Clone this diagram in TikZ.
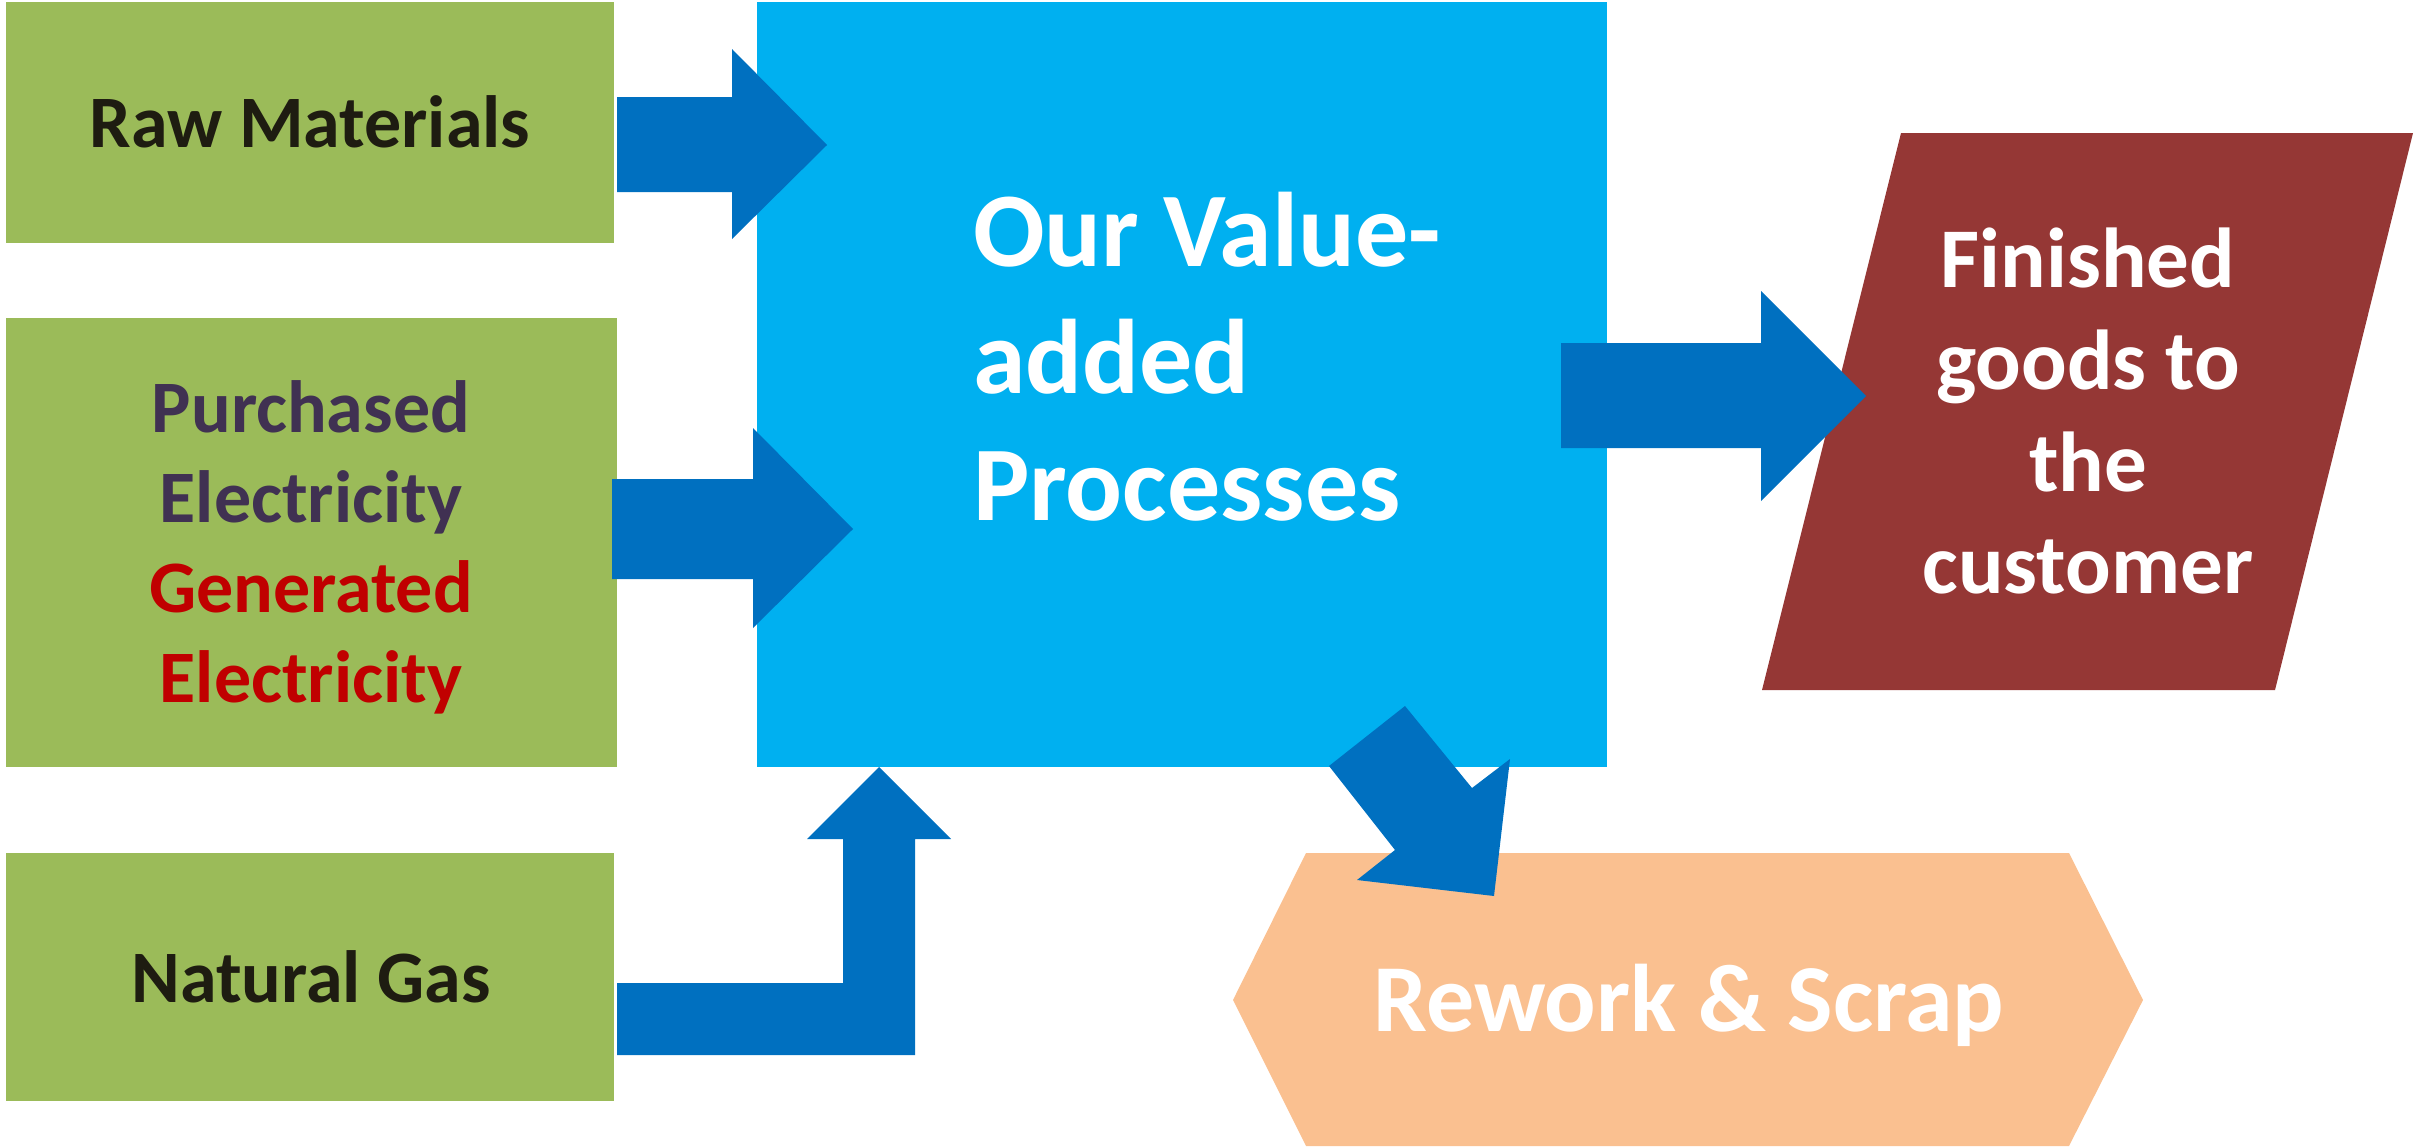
\documentclass[tikz,border=0pt]{standalone}
\usepackage{fontspec}
\setmainfont{Carlito}
\definecolor{boxgreen}{HTML}{9BBB59}
\definecolor{procblue}{HTML}{00B0F0}
\definecolor{arrowblue}{HTML}{0070C0}
\definecolor{goodsred}{HTML}{953735}
\definecolor{scrapped}{HTML}{FAC090}
\definecolor{darktext}{HTML}{1E1C11}
\definecolor{purpletext}{HTML}{403152}
\definecolor{gentext}{HTML}{C00000}
\tikzset{
  boxshape/.style={draw=none, inner sep=0pt, outer sep=0pt, anchor=north west},
  lbl/.style={inner sep=0pt, outer sep=0pt, font=\bfseries},
  blockarrow/.style={fill=arrowblue, draw=none},
}
\begin{document}
\begin{tikzpicture}[x=1pt, y=-1pt]
\useasboundingbox (0,0) rectangle (2420,1146);
% input boxes
\node[boxshape, fill=boxgreen, minimum width=608, minimum height=241] (raw) at (6,2) {};
\node[boxshape, fill=boxgreen, minimum width=611, minimum height=449] (elec) at (6,318) {};
\node[boxshape, fill=boxgreen, minimum width=608, minimum height=248] (gas) at (6,853) {};
% process box
\node[boxshape, fill=procblue, minimum width=850, minimum height=765] (proc) at (757,2) {};
% finished goods parallelogram
\fill[goodsred] (1901,133) coordinate (fg1) -- (2413,133) coordinate (fg2)
  -- (2275,690) coordinate (fg3) -- (1762,690) coordinate (fg4) -- cycle;
% rework hexagon
\fill[scrapped] (1306,853) coordinate (rw1) -- (2069,853) -- (2143,1000)
  -- (2069,1146) -- (1306,1146) -- (1233,1000) coordinate (rw6) -- cycle;
% texts
\node[lbl, anchor=base, text=darktext, font=\bfseries\fontsize{74}{90}\selectfont] (rawt) at (310,147) {Raw Materials};
\node[lbl, anchor=base, text=purpletext, font=\bfseries\fontsize{74}{90}\selectfont] (elect) at (311,432)
  {\begin{tabular}[t]{@{}c@{}}Purchased\\Electricity\\\textcolor{gentext}{Generated}\\\textcolor{gentext}{Electricity}\end{tabular}};
\node[lbl, anchor=base, text=darktext, font=\bfseries\fontsize{74}{90}\selectfont] (gast) at (311,1002) {Natural Gas};
\node[lbl, anchor=base west, text=white, font=\bfseries\fontsize{106}{127}\selectfont] (proct) at (973,266)
  {\begin{tabular}[t]{@{}l@{}}Our Value-\\added\\Processes\end{tabular}};
\node[lbl, anchor=base, text=white, font=\bfseries\fontsize{85}{102}\selectfont] (fgt) at (2088,287)
  {\begin{tabular}[t]{@{}c@{}}Finished\\goods to\\the\\customer\end{tabular}};
\node[lbl, anchor=base, text=white, font=\bfseries\fontsize{96}{115}\selectfont] (rwt) at (1689,1031) {Rework \& Scrap};
% block arrows
\fill[blockarrow] (617,97) -- (732,97) -- (732,49) -- (827,145) -- (732,239) -- (732,192) -- (617,192) -- cycle;
\fill[blockarrow] (612,479) -- (753,479) -- (753,428) -- (853,529) -- (753,628) -- (753,579) -- (612,579) -- cycle;
\fill[blockarrow] (617,983) -- (843,983) -- (843,839) -- (807,839) -- (879,767) -- (951,839) -- (915,839) -- (915,1055) -- (617,1055) -- cycle;
\fill[blockarrow] (1561,343) -- (1761,343) -- (1761,291) -- (1866,396) -- (1761,501) -- (1761,448) -- (1561,448) -- cycle;
\fill[blockarrow] (1329,766) -- (1405,706) -- (1472,788) -- (1510,759) -- (1494,896) -- (1357,880) -- (1395,850) -- cycle;
\end{tikzpicture}
\end{document}
